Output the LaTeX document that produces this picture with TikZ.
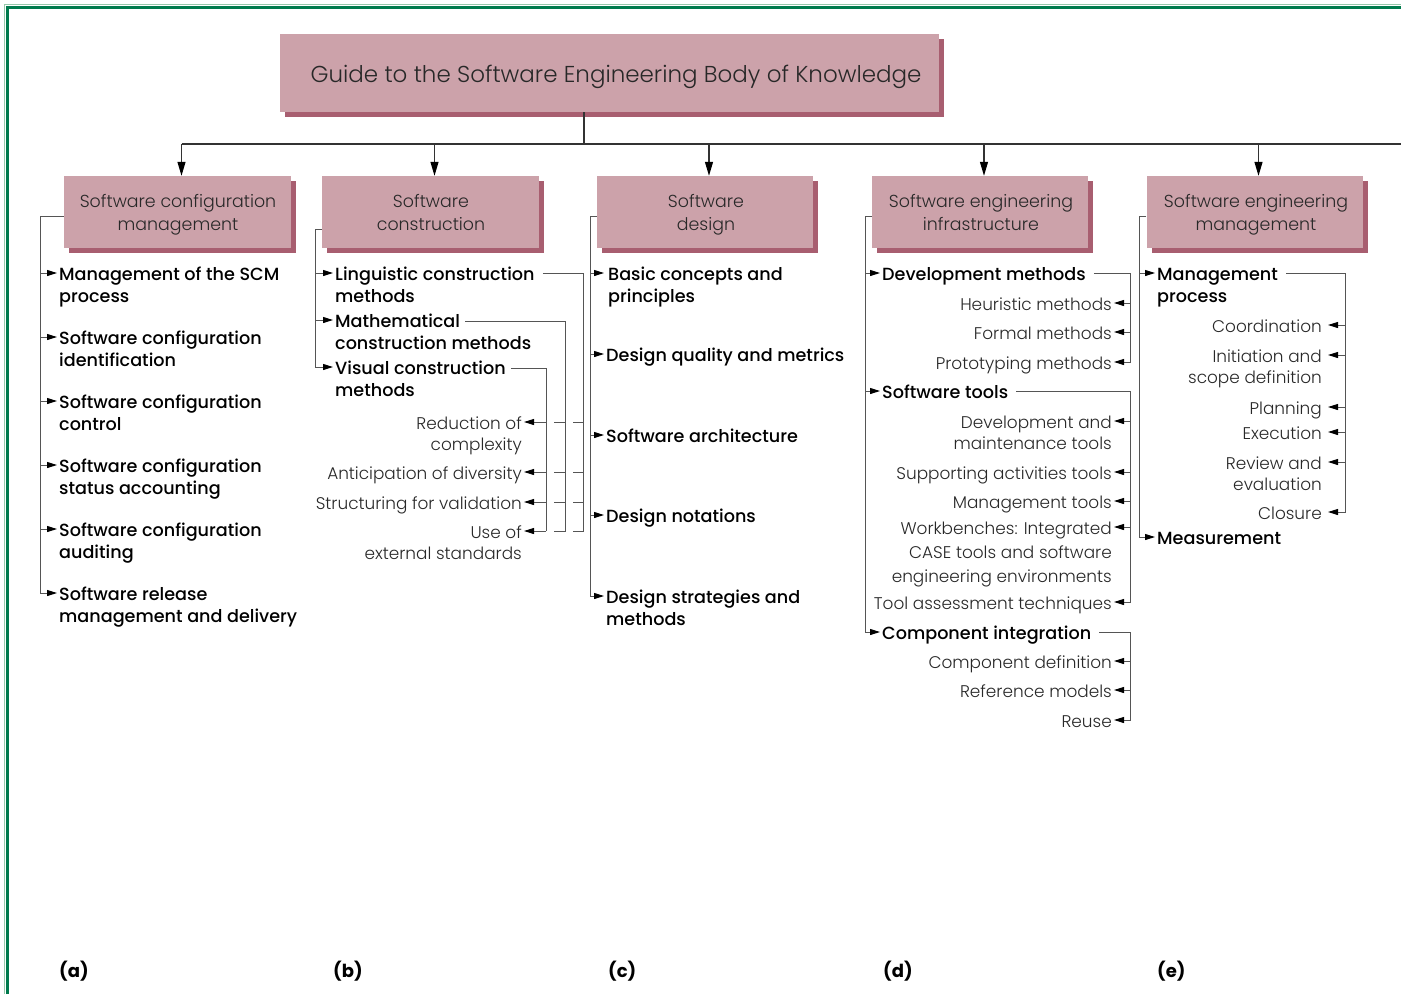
\documentclass[tikz,border=0pt]{standalone}
\usepackage{fontspec}
\setmainfont{Poppins}[UprightFont={* Medium}, BoldFont={* Bold}]
\newfontfamily\lightfont{Poppins Light}
\usetikzlibrary{arrows.meta,calc,shadows}
\definecolor{boxpink}{RGB}{204,162,170}
\definecolor{boxshadow}{RGB}{168,94,112}
\definecolor{framegreen}{RGB}{0,122,77}
\definecolor{framelight}{RGB}{150,200,170}
\definecolor{linegray}{RGB}{85,85,85}
\definecolor{txtgray}{RGB}{40,40,40}
\tikzset{
  every node/.style={inner sep=0pt},
  ar/.style={draw=linegray, line width=1pt, arrows={-Triangle[length=10pt,width=6pt,color=black]}},
  lnk/.style={draw=linegray, line width=1pt},
  busline/.style={draw=black!80, line width=1.2pt},
  downar/.style={busline, arrows={-Triangle[length=14pt,width=8pt,color=black]}},
  headbox/.style={fill=boxpink,
    general shadow={fill=boxshadow, shadow xshift=5pt, shadow yshift=-5pt}},
  item/.style={anchor=base west, align=left, font=\fontsize{17.6}{22.5}\selectfont},
  itemtwo/.style={item, yshift=-22.5pt},
  subr/.style={anchor=base east, align=right, text=txtgray, font=\lightfont\fontsize{16.9}{21.5}\selectfont},
  subtwo/.style={subr, yshift=-21.5pt},
  subthree/.style={subr, font=\lightfont\fontsize{16.9}{24}\selectfont, yshift=-48pt},
  tag/.style={anchor=base west, font=\bfseries\fontsize{18}{20}\selectfont},
  htext/.style={anchor=base, align=center, text=txtgray, font=\lightfont\fontsize{17.4}{22.5}\selectfont},
}
\begin{document}
\begin{tikzpicture}[x=1pt,y=-1pt]
\useasboundingbox (0,0) rectangle (1401,994);
% frame
\draw[framelight, line width=1.5pt] (4.5,994) -- (4.5,4.5) -- (1401,4.5);
\draw[framegreen, line width=3pt] (7,994) -- (7,7) -- (1401,7);

% title and headers
\node[headbox, minimum width=659pt, minimum height=78pt] (title) at (609.5,73) {};
\node[anchor=base, font=\lightfont\fontsize{23}{28}\selectfont, text=txtgray] (titletext) at (616,82) {Guide to the Software Engineering Body of Knowledge};
\node[headbox, minimum width=227pt, minimum height=72pt] (ha) at (177.5,212) {};
\node[headbox, minimum width=217pt, minimum height=72pt] (hb) at (430.5,212) {};
\node[headbox, minimum width=216pt, minimum height=72pt] (hc) at (705,212) {};
\node[headbox, minimum width=216pt, minimum height=72pt] (hd) at (980,212) {};
\node[headbox, minimum width=216pt, minimum height=72pt] (he) at (1254.5,212) {};
\node[htext] (hat) at (178,230) {Software configuration\\management};
\node[htext] (hbt) at (431,230) {Software\\construction};
\node[htext] (hct) at (706,230) {Software\\design};
\node[htext] (hdt) at (981,230) {Software engineering\\infrastructure};
\node[htext] (het) at (1256,230) {Software engineering\\management};

% bus
\coordinate (bus) at (584,144);
\coordinate (busend) at (1401,144);
\coordinate (ta) at ([xshift=4pt]ha.north);
\coordinate (tb) at ([xshift=4pt]hb.north);
\coordinate (tc) at ([xshift=4pt]hc.north);
\coordinate (td) at ([xshift=4pt]hd.north);
\coordinate (te) at ([xshift=4pt]he.north);
\draw[busline] (title.south -| bus) -- (bus);
\draw[busline] (ta |- bus) -- (busend);
\foreach \t in {ta,tb,tc,td,te} \draw[downar] (\t |- bus) -- (\t);

% ---------- column (a)
\node[itemtwo] (a1) at (59,280) {Management of the SCM\\process};
\node[itemtwo] (a2) at (59,344) {Software configuration\\identification};
\node[itemtwo] (a3) at (59,408) {Software configuration\\control};
\node[itemtwo] (a4) at (59,472) {Software configuration\\status accounting};
\node[itemtwo] (a5) at (59,536) {Software configuration\\auditing};
\node[itemtwo] (a6) at (59,600) {Software release\\management and delivery};
\draw[lnk] ([yshift=-4pt]ha.west) -| (40,593);
\foreach \y in {273,337,401,465,529,593} \draw[ar] (40,\y) -- (57,\y);

% ---------- column (b)
\node[itemtwo] (b1) at (335,280) {Linguistic construction\\methods};
\node[item] (b2) at (335,327) {Mathematical};
\node[item] (b2x) at (335,349.5) {construction methods};
\node[itemtwo] (b3) at (335,374) {Visual construction\\methods};
\draw[lnk] ([yshift=-17pt]hb.west) -| (315,367);
\foreach \y in {273,320,367} \draw[ar] (315,\y) -- (333,\y);
\node[subtwo] (b4) at (522,429) {Reduction of\\complexity};
\node[subr] (b5) at (522,479) {Anticipation of diversity};
\node[subr] (b6) at (522,509) {Structuring for validation};
\node[subtwo] (b7) at (522,538) {Use of\\external standards};
\draw[lnk] ([xshift=8pt]b1.east |- 0,273) -| (583,531) -- (573,531);
\draw[lnk] ([xshift=5pt]b2.east |- 0,321) -| (565,531) -- (554,531);
\draw[lnk] ([xshift=5pt]b3.east |- 0,368) -| (546,531);
\foreach \y in {422,472,502,531} \draw[ar] (546,\y) -- (524,\y);
\foreach \y in {422,472,502} {
  \draw[lnk] (565,\y) -- (554,\y);
  \draw[lnk] (583,\y) -- (573,\y);
}

% ---------- column (c)
\node[itemtwo] (c1) at (608,280) {Basic concepts and\\principles};
\node[item] (c2) at (606,361) {Design quality and metrics};
\node[item] (c3) at (606,442) {Software architecture};
\node[item] (c4) at (606,522) {Design notations};
\node[itemtwo] (c5) at (606,603) {Design strategies and\\methods};
\draw[lnk] ([yshift=-4pt]hc.west) -| (590,596);
\foreach \y in {273,354,435,515,596} \draw[ar] (590,\y) -- (604,\y);

% ---------- column (d)
\node[item] (d1) at (882,280) {Development methods};
\node[subr] (d11) at (1112,310) {Heuristic methods};
\node[subr] (d12) at (1112,339) {Formal methods};
\node[subr] (d13) at (1112,369) {Prototyping methods};
\draw[ar] ([xshift=8pt]d1.east |- 0,273) -| (1130,362) -- (1114,362);
\foreach \y in {303,332} \draw[ar] (1130,\y) -- (1114,\y);

\node[item] (d2) at (882,398) {Software tools};
\node[subtwo] (d21) at (1112,428) {Development and\\maintenance tools};
\node[subr] (d22) at (1112,479) {Supporting activities tools};
\node[subr] (d23) at (1112,508) {Management tools};
\node[subthree] (d24) at (1112,534) {Workbenches: Integrated\\CASE tools and software\\engineering environments};
\node[subr] (d25) at (1112,609) {Tool assessment techniques};
\draw[ar] ([xshift=8pt]d2.east |- 0,391) -| (1130,602) -- (1114,602);
\foreach \y in {421,472,501,527} \draw[ar] (1130,\y) -- (1114,\y);

\node[item] (d3) at (882,639) {Component integration};
\node[subr] (d31) at (1112,668) {Component definition};
\node[subr] (d32) at (1112,697) {Reference models};
\node[subr] (d33) at (1112,727) {Reuse};
\draw[ar] ([xshift=8pt]d3.east |- 0,632) -| (1130,720) -- (1114,720);
\foreach \y in {661,690} \draw[ar] (1130,\y) -- (1114,\y);

\draw[lnk] ([yshift=-4pt]hd.west) -| (865,632);
\foreach \y in {273,391,632} \draw[ar] (865,\y) -- (880,\y);

% ---------- column (e)
\node[itemtwo] (e1) at (1157,280) {Management\\process};
\node[subr] (e11) at (1322,332) {Coordination};
\node[subtwo] (e12) at (1322,362) {Initiation and\\scope definition};
\node[subr] (e13) at (1322,414) {Planning};
\node[subr] (e14) at (1322,439) {Execution};
\node[subtwo] (e15) at (1322,469) {Review and\\evaluation};
\node[subr] (e16) at (1322,519) {Closure};
\draw[ar] ([xshift=8pt]e1.east |- 0,273) -| (1345,512) -- (1328,512);
\foreach \y in {325,355,407,432,462} \draw[ar] (1345,\y) -- (1328,\y);
\node[item] (e2) at (1157,544) {Measurement};
\draw[lnk] ([yshift=-4pt]he.west) -| (1139,537);
\foreach \y in {273,537} \draw[ar] (1139,\y) -- (1155,\y);

% ---------- tags
\node[tag] (la) at (59,977) {(a)};
\node[tag] (lb) at (333,977) {(b)};
\node[tag] (lc) at (608,977) {(c)};
\node[tag] (ld) at (883,977) {(d)};
\node[tag] (le) at (1157,977) {(e)};
\end{tikzpicture}
\end{document}
